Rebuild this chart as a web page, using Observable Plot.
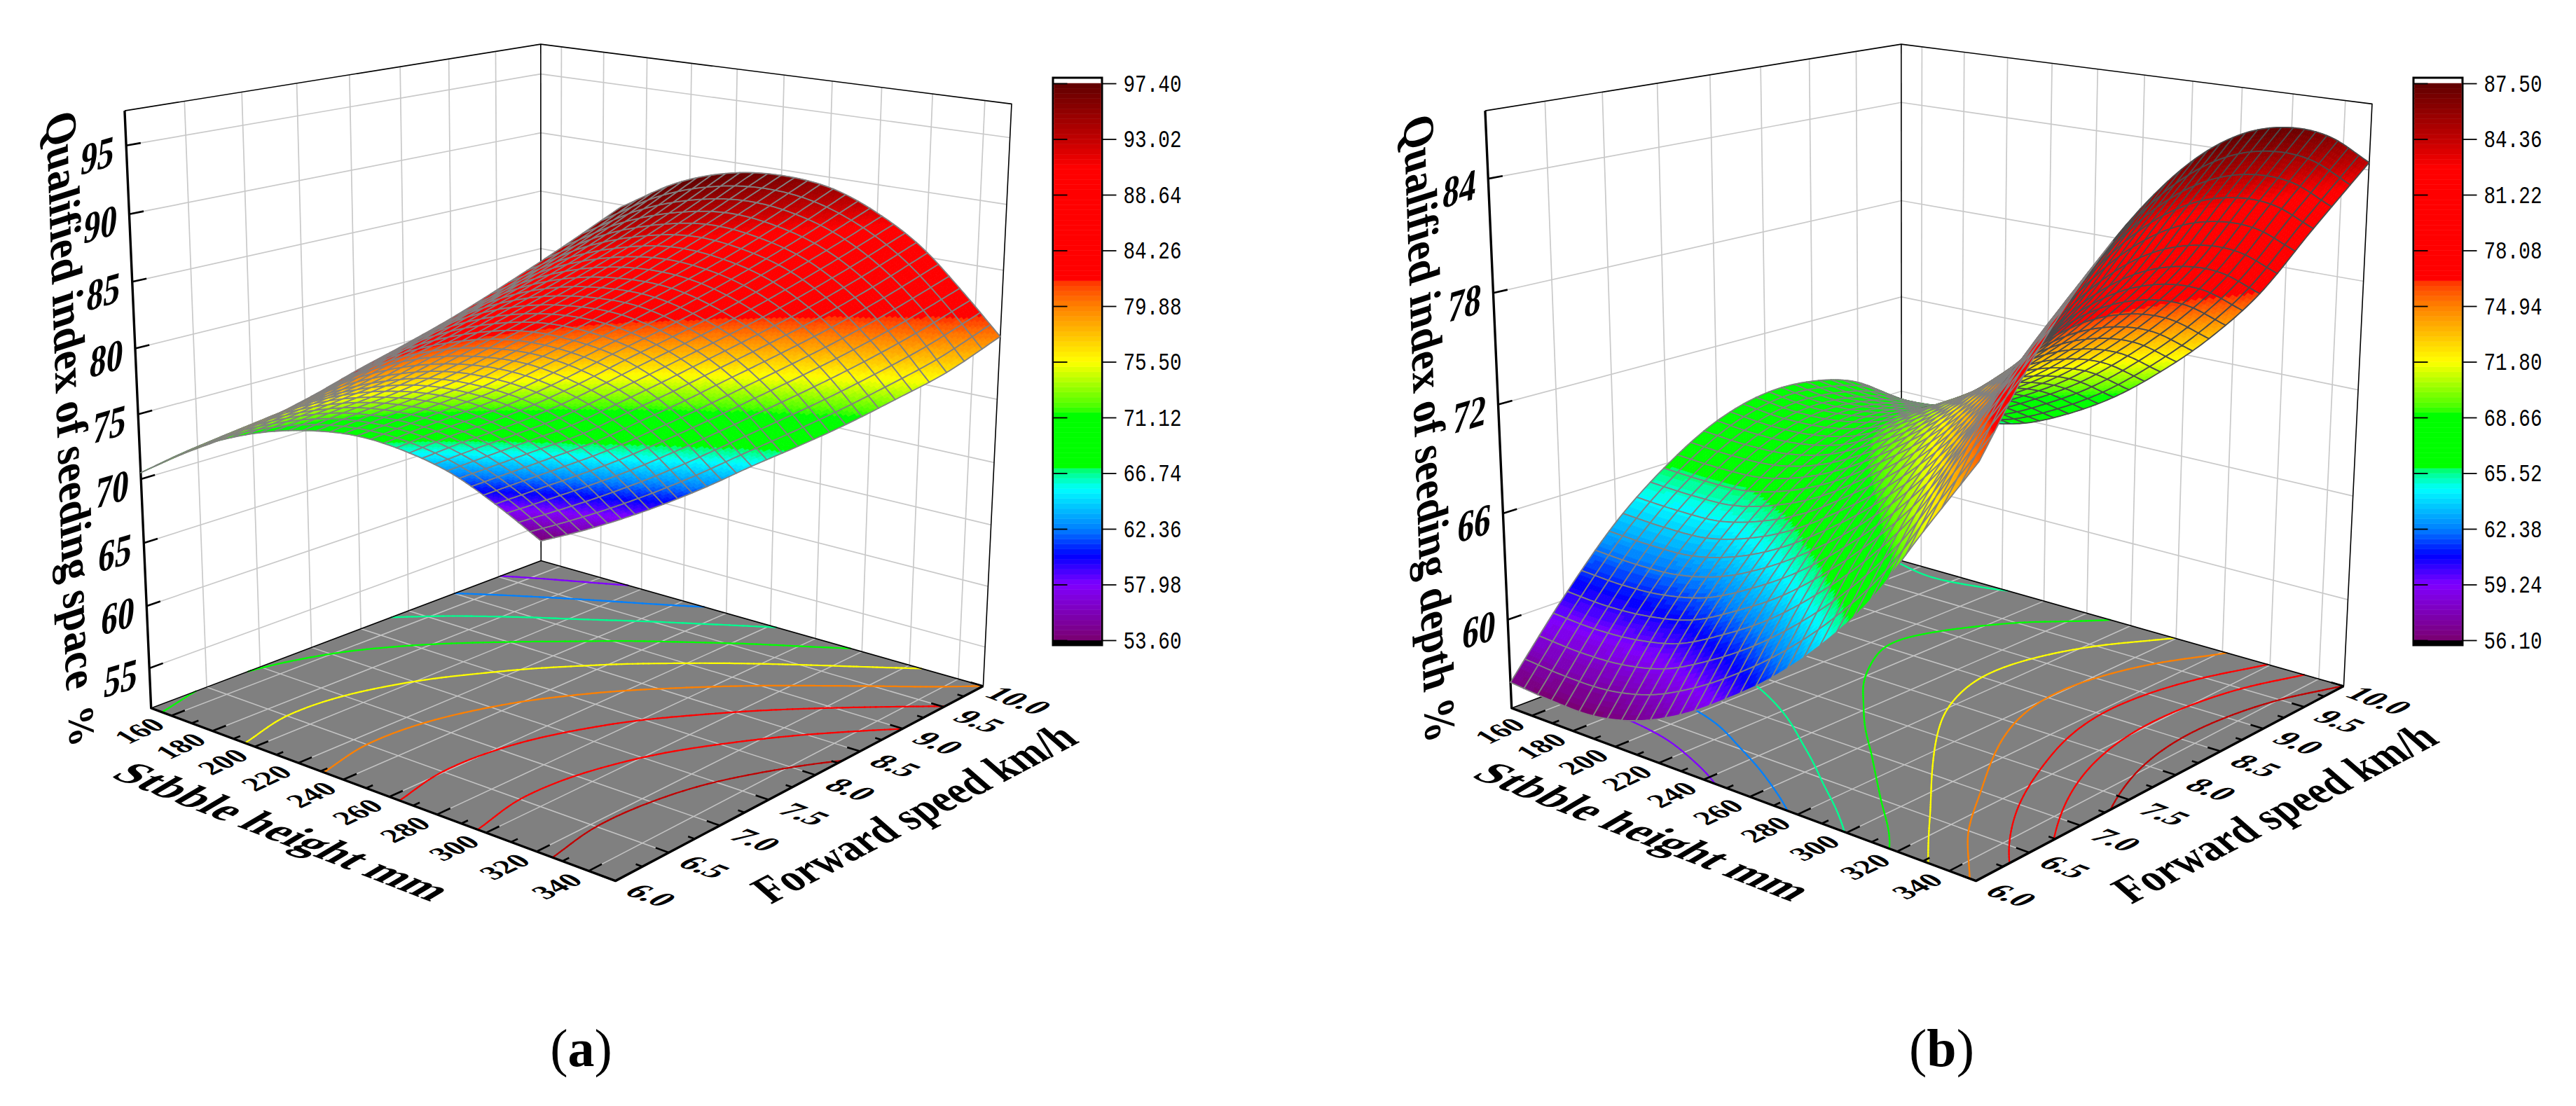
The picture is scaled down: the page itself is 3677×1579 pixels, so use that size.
<!DOCTYPE html>
<html>
<head>
<meta charset="utf-8">
<style>
html,body{margin:0;padding:0;background:#fff}
#row{display:flex;width:3677px;height:1579px;overflow:hidden}
svg{display:block;flex:none}
</style>
<script src="https://cdn.jsdelivr.net/npm/d3@7"></script>
<script src="https://cdn.jsdelivr.net/npm/@observablehq/plot@0.6"></script>
</head>
<body>
<div id="row"></div>
<script>
// ---- axis ticks
const stubbleTicks = [160,180,200,220,240,260,280,300,320,340];
const stubbleMinor = [170,190,210,230,250,270,290,310,330];
const speedTicks = [6,6.5,7,7.5,8,8.5,9,9.5,10];
const speedMinor = [6.25,6.75,7.25,7.75,8.25,8.75,9.25,9.75];
const spaceTicks = [55,60,65,70,75,80,85,90,95];
const depthTicks = [60,66,72,78,84];
const spaceBar = [97.40,93.02,88.64,84.26,79.88,75.50,71.12,66.74,62.36,57.98,53.60];
const depthBar = [87.50,84.36,81.22,78.08,74.94,71.80,68.66,65.52,62.38,59.24,56.10];

// ---- surface values: one row per stubble height, one column per speed
const surfaceStubble = [150,170,190,210,230,250,270,290,310,330,350];
const surfaceSpeed = [6,6.5,7,7.5,8,8.5,9,9.5,10];
const spaceValues = [
 [70.5,71.2,71.0,70.0,68.3,65.7,62.4,58.2,53.6],
 [72.8,73.4,73.2,72.3,70.5,68.0,64.6,60.4,55.5],
 [74.9,75.6,75.4,74.4,72.7,70.1,66.8,62.6,57.6],
 [77.2,77.8,77.6,76.7,74.9,72.4,69.0,64.9,59.9],
 [79.7,80.4,80.2,79.2,77.5,74.9,71.6,67.4,62.4],
 [82.4,83.0,82.8,81.9,80.1,77.6,74.2,70.0,65.1],
 [85.0,85.7,85.5,84.5,82.8,80.2,76.9,72.7,67.7],
 [87.7,88.4,88.2,87.2,85.5,82.9,79.6,75.4,70.4],
 [90.6,91.2,91.0,90.1,88.3,85.8,82.4,78.2,73.3],
 [93.6,94.2,94.0,93.1,91.3,88.8,85.4,81.2,76.3],
 [96.7,97.4,97.2,96.2,94.5,91.9,88.6,84.4,79.9]
];
const depthValues = [
 [56.4,60.2,63.5,65.9,67.6,68.4,68.3,67.4,65.3],
 [56.2,60.1,63.4,65.8,67.4,68.1,67.9,67.0,64.9],
 [56.2,60.3,63.5,65.9,67.5,68.2,68.0,67.1,65.2],
 [56.8,60.9,64.2,66.6,68.1,68.8,68.6,67.6,65.8],
 [58.0,62.2,65.4,67.8,69.4,70.1,69.9,68.9,67.0],
 [59.7,63.8,67.1,69.5,71.0,71.7,71.5,70.5,68.6],
 [61.7,65.9,69.1,71.5,73.1,73.8,73.6,72.6,70.7],
 [64.2,68.4,71.6,74.0,75.6,76.3,76.1,75.1,73.2],
 [67.3,71.5,74.7,77.1,78.7,79.4,79.2,78.2,76.3],
 [71.4,75.6,78.8,81.2,82.8,83.5,83.3,82.3,80.4],
 [75.4,79.6,82.8,85.2,86.8,87.5,87.3,86.3,84.4]
];

// ---- colour map of the legend (position 0..1 in the bar, colour)
const mapStops = [0,0.1,0.152,0.2,0.272,0.304,0.311,0.408,0.415,0.5,0.6,0.64,0.65,0.848,0.9,1];
const mapColors = ["#7a0070","#8000ff","#0000ff","#0080ff","#00ffff","#00ff80","#00ff00","#00ff00","#40ff00","#ffff00","#ff8000","#ff4000","#ff0000","#ff0000","#c00000","#600000"];
const bandCount = 110;

// ---- camera: box corners and wall tick positions on screen
const boxCorners = [
 [0,0,0,214.7,1010.7],[0,0,1,178,158],[1,0,0,878,1257],[1,1,0,1404,975],
 [1,1,1,1443,143],[0,1,0,771.5,799],[0,1,1,771.5,61.6],
 [0,0,0.508,196.6,591],[0,0,0.071,212.2,953.6],[0,0,0.945,180.1,207],
 [0,1,0.945,771.5,105],[0,1,0.617,771.5,357],
 [1,1,0.071,1406,926],[1,1,0.617,1427,482],[1,1,0.945,1440.4,199]
];
function solveCamera(){
  const A=[],B=[];
  for(const [X,Y,Z,px,py] of boxCorners){
    const x=px/1000,y=py/1000;
    A.push([X,Y,Z,1,0,0,0,0,-x*X,-x*Y,-x*Z]);B.push(x);
    A.push([0,0,0,0,X,Y,Z,1,-y*X,-y*Y,-y*Z]);B.push(y);
  }
  const n=11,M=d3.range(n).map(i=>d3.range(n+1).map(j=>0));
  A.forEach((r,k)=>{for(let i=0;i<n;i++){for(let j=0;j<n;j++)M[i][j]+=r[i]*r[j];M[i][n]+=r[i]*B[k];}});
  for(let c=0;c<n;c++){
    let p=c;for(let r=c+1;r<n;r++)if(Math.abs(M[r][c])>Math.abs(M[p][c]))p=r;
    [M[c],M[p]]=[M[p],M[c]];
    for(let r=0;r<n;r++){if(r===c)continue;const f=M[r][c]/M[c][c];for(let j=c;j<=n;j++)M[r][j]-=f*M[c][j];}
  }
  return M.map((r,i)=>r[n]/r[i]);
}
const P=solveCamera();
function proj(u,w,t){
  const d=P[8]*u+P[9]*w+P[10]*t+1;
  return [1000*(P[0]*u+P[1]*w+P[2]*t+P[3])/d,1000*(P[4]*u+P[5]*w+P[6]*t+P[7])/d];
}
const uOf=s=>(s-150)/200, wOf=v=>(v-6)/4;

// smooth sampling of the table between the read values
const cr=(a,b,c,d,t)=>0.5*((2*b)+(-a+c)*t+(2*a-5*b+4*c-d)*t*t+(-a+3*b-3*c+d)*t*t*t);
function pick(arr,i){const n=arr.length;if(i<0)return 2*arr[0]-arr[1];if(i>=n)return 2*arr[n-1]-arr[n-2];return arr[i];}
function sampler(table){
  const nv=table[0].length,ns=table.length;
  return (u,w)=>{
    const fs=Math.min(u*(ns-1),ns-1.000001),fv=Math.min(w*(nv-1),nv-1.000001);
    const is=Math.floor(fs),iv=Math.floor(fv),ts=fs-is,tv=fv-iv;
    const rowAt=r=>cr(pick(r,iv-1),pick(r,iv),pick(r,iv+1),pick(r,iv+2),tv);
    const v1=rowAt(table[is]),v2=rowAt(table[is+1]);
    const v0=is>0?rowAt(table[is-1]):2*v1-v2;
    const v3=is+2<ns?rowAt(table[is+2]):2*v2-v1;
    return cr(v0,v1,v2,v3,ts);
  };
}

function warpText(rows,opts){
  return Plot.text(rows,{x:"x",y:"y",text:"t",textAnchor:opts.anchor||"middle",lineAnchor:"middle",
    fontFamily:opts.family||"Liberation Serif",fontWeight:opts.weight||"bold",fontSize:opts.size,fill:"black",
    render(index,scales,values,dims,ctx,next){
      const g=next(index,scales,values,dims,ctx);
      d3.select(g).selectAll("text").each(function(i){
        const r=rows[i],b=opts.base,s=opts.up;
        this.setAttribute("transform",`matrix(${b[0]},${b[1]},${-s[0]},${-s[1]},${r.x},${r.y})`);
        if(r.len){this.setAttribute("textLength",r.len);this.setAttribute("lengthAdjust","spacingAndGlyphs");}
      });
      return g;
    }});
}
const lineMark=(rows,stroke,width)=>Plot.line(rows,{x:"x",y:"y",z:"id",stroke,strokeWidth:width,strokeLinecap:"butt"});

function panel(cfg){
  const {width,zMin,zMax,zTicks,table,bar,titleRow,percentRow,tag,backLine}=cfg;
  const barMax=bar[0],barMin=bar[bar.length-1];
  const tz=z=>(z-zMin)/(zMax-zMin);
  const scale=Plot.scale({color:{type:"linear",domain:mapStops.map(t=>barMin+t*(barMax-barMin)),range:mapColors,clamp:true}});
  const bandStep=(barMax-barMin)/bandCount;
  const bandColors=d3.range(bandCount).map(i=>scale.apply(barMin+(i+0.5)*bandStep));
  const colorOf=z=>bandColors[Math.max(0,Math.min(bandCount-1,Math.floor((z-barMin)/bandStep)))];
  const f=sampler(table);
  const mesh=30,sub=5,N=mesh*sub;
  const Z=[],S=[];
  for(let i=0;i<=N;i++){Z.push([]);S.push([]);for(let j=0;j<=N;j++){const z=f(i/N,j/N);Z[i].push(z);S[i].push(proj(i/N,j/N,tz(z)));}}
  // surface rows, painted from the far corner to the near corner
  const rows=[];let id=0;
  const push=(pts,fill,stroke,w)=>{id++;for(const p of pts)rows.push({id,x:p[0],y:p[1],fill,stroke,w});};
  for(let ci=0;ci<mesh;ci++){
    for(let cj=mesh-1;cj>=0;cj--){
      for(let a=0;a<sub;a++)for(let b=sub-1;b>=0;b--){
        const i=ci*sub+a,j=cj*sub+b;
        const c=colorOf((Z[i][j]+Z[i+1][j]+Z[i+1][j+1]+Z[i][j+1])/4);
        push([S[i][j],S[i+1][j],S[i+1][j+1],S[i][j+1],S[i][j]],c,c,0.9);
      }
      const i0=ci*sub,j0=cj*sub,i1=i0+sub,j1=j0+sub,path=[];
      for(let k=i0;k<=i1;k++)path.push(S[k][j0]);
      for(let k=j0+1;k<=j1;k++)path.push(S[i1][k]);
      for(let k=i1-1;k>=i0;k--)path.push(S[k][j1]);
      for(let k=j1-1;k>=j0;k--)path.push(S[i0][k]);
      const A=S[i0][j0],B=S[i1][j0],C=S[i0][j1];
      const cross=(B[0]-A[0])*(C[1]-A[1])-(B[1]-A[1])*(C[0]-A[0]);
      push(path,"none",cross<0?"#808080":backLine,1.8);
    }
  }
  // floor contours at the inner legend values
  const contour=[];let cid=0;
  bar.slice(1,-1).forEach(level=>{
    const col=scale.apply(level);
    const cross=(i1,j1,i2,j2)=>{const a=Z[i1][j1],b=Z[i2][j2];if((a<level)===(b<level))return null;const t=(level-a)/(b-a);return proj((i1+(i2-i1)*t)/N,(j1+(j2-j1)*t)/N,0);};
    for(let i=0;i<N;i++)for(let j=0;j<N;j++){
      const hits=[cross(i,j,i+1,j),cross(i+1,j,i+1,j+1),cross(i,j+1,i+1,j+1),cross(i,j,i,j+1)].filter(Boolean);
      for(let k=0;k+1<hits.length;k+=2){cid++;contour.push({id:cid,x:hits[k][0],y:hits[k][1],c:col},{id:cid,x:hits[k+1][0],y:hits[k+1][1],c:col});}
    }
  });
  // walls, floor and grid
  let sid=0;
  const addSeg=(arr,...pts)=>{sid++;for(const p of pts)arr.push({id:sid,x:p[0],y:p[1]});};
  const wallGrid=[],floorGrid=[],ticks=[],thin=[],thick=[];
  zTicks.forEach(z=>addSeg(wallGrid,proj(0,0,tz(z)),proj(0,1,tz(z)),proj(1,1,tz(z))));
  speedTicks.slice(1,-1).forEach(v=>addSeg(wallGrid,proj(0,wOf(v),0),proj(0,wOf(v),1)));
  stubbleTicks.forEach(s=>addSeg(wallGrid,proj(uOf(s),1,0),proj(uOf(s),1,1)));
  stubbleTicks.forEach(s=>addSeg(floorGrid,proj(uOf(s),0,0),proj(uOf(s),1,0)));
  speedTicks.slice(1,-1).forEach(v=>addSeg(floorGrid,proj(0,wOf(v),0),proj(1,wOf(v),0)));
  stubbleTicks.forEach(s=>addSeg(ticks,proj(uOf(s),0,0),proj(uOf(s),0.03,0)));
  stubbleMinor.forEach(s=>addSeg(ticks,proj(uOf(s),0,0),proj(uOf(s),0.015,0)));
  speedTicks.forEach(v=>addSeg(ticks,proj(1,wOf(v),0),proj(0.975,wOf(v),0)));
  speedMinor.forEach(v=>addSeg(ticks,proj(1,wOf(v),0),proj(0.9875,wOf(v),0)));
  zTicks.forEach(z=>addSeg(ticks,proj(0,0,tz(z)),proj(0,0.03,tz(z))));
  addSeg(thin,proj(0,0,1),proj(0,1,1),proj(1,1,1),proj(1,1,0));
  addSeg(thin,proj(0,1,0),proj(0,1,1));
  addSeg(thin,proj(0,0,0),proj(0,1,0),proj(1,1,0));
  addSeg(thick,proj(0,0,1),proj(0,0,0),proj(1,0,0),proj(1,1,0));
  const wall=[proj(0,0,0),proj(0,0,1),proj(0,1,1),proj(1,1,1),proj(1,1,0),proj(1,0,0)].map(p=>({x:p[0],y:p[1]}));
  const floor=[proj(0,0,0),proj(1,0,0),proj(1,1,0),proj(0,1,0),proj(0,0,0)].map(p=>({x:p[0],y:p[1]}));
  // colour bar
  const barX0=1503,barX1=1573,barTop=119,barBot=914;
  const barY=z=>barBot+(z-barMin)/(barMax-barMin)*(barTop-barBot);
  const bandRows=bandColors.map((c,i)=>({y1:barY(barMin+i*bandStep),y2:barY(barMin+(i+1)*bandStep),c}));
  const barTicks=[];
  bar.forEach(z=>{addSeg(barTicks,[barX0,barY(z)],[barX0+20,barY(z)]);addSeg(barTicks,[barX1,barY(z)],[barX1+20,barY(z)]);});
  // text rows
  const zRows=zTicks.map(z=>{const p=proj(0,0,tz(z));return {x:p[0]-41,y:p[1]+15,t:String(z)};});
  const sRows=stubbleTicks.map(s=>{const p=proj(uOf(s),0,0);return {x:p[0]-45,y:p[1]+22,t:String(s)};});
  const vRows=speedTicks.map(v=>{const p=proj(1,wOf(v),0);return {x:p[0]+50,y:p[1]+21,t:v.toFixed(1)};});
  const barRows=bar.map(z=>({x:1603,y:barY(z),t:z.toFixed(2),len:83}));
  const marks=[
    Plot.line(wall,{x:"x",y:"y",fill:"white",stroke:"none"}),
    lineMark(wallGrid,"#c9c9c9",1.7),
    Plot.line(floor,{x:"x",y:"y",fill:"#808080",stroke:"none"}),
    lineMark(floorGrid,"#c4c4c4",1.5),
    Plot.line(contour,{x:"x",y:"y",z:"id",stroke:"c",strokeWidth:2.2,strokeLinecap:"round"}),
    lineMark(thin,"black",1.6),
    lineMark(thick,"black",3.4),
    lineMark(ticks,"black",2.6),
    Plot.line(rows,{x:"x",y:"y",z:"id",fill:"fill",stroke:"stroke",strokeWidth:"w",strokeLinejoin:"round"}),
    // colour bar
    Plot.rect([{}],{x1:()=>barX0,x2:()=>barX1,y1:()=>111,y2:()=>921,fill:"white",stroke:"black",strokeWidth:3}),
    Plot.rect([{}],{x1:()=>barX0,x2:()=>barX1,y1:()=>barBot,y2:()=>921,fill:"black"}),
    Plot.rect(bandRows,{x1:()=>barX0+1.5,x2:()=>barX1-1.5,y1:"y1",y2:"y2",fill:"c",stroke:"c",strokeWidth:0.5}),
    lineMark(barTicks,"black",1.8),
    warpText(barRows,{family:"Liberation Mono",weight:"normal",size:35,anchor:"start",base:[1,0],up:[0,-1]}),
    // axis text
    warpText(zRows,{size:64,base:[0.74,-0.22],up:[0.1,-1]}),
    warpText(sRows,{size:41,base:[0.9,-0.42],up:[-0.85,-0.5]}),
    warpText(vRows,{size:46,base:[0.94,0.35],up:[0.88,-0.47]}),
    warpText([titleRow],{size:66,base:[0.035,0.999],up:[0.95,-0.3]}),
    warpText([{x:403,y:1187,t:"Stbble height mm",len:492}],{size:66,base:[0.932,0.363],up:[0.85,-0.5]}),
    warpText([{x:1305,y:1161,t:"Forward speed km/h",len:499}],{size:66,base:[0.885,-0.465],up:[-0.75,-0.65]})
  ];
  if(percentRow)marks.push(warpText([percentRow],{size:55,base:[0.035,0.999],up:[0.95,-0.3]}));
  marks.push(Plot.text([tag],{x:()=>829,y:()=>1497,text:d=>`(${d})`,fontFamily:"Liberation Serif",fontSize:76,textAnchor:"middle",lineAnchor:"middle",fill:"black",
    render(index,scales,values,dims,ctx,next){
      const g=next(index,scales,values,dims,ctx);
      d3.select(g).selectAll("text").each(function(){this.innerHTML=`(<tspan font-weight="bold">${tag}</tspan>)`;});
      return g;
    }}));
  return Plot.plot({width,height:1579,margin:0,
    x:{domain:[0,width],range:[0,width],axis:null},
    y:{domain:[0,1579],range:[0,1579],axis:null},
    color:{type:"identity"},
    marks});
}
const row=document.getElementById("row");
row.append(panel({width:1942,zMin:51.75,zMax:97.5,zTicks:spaceTicks,table:spaceValues,bar:spaceBar,backLine:"#808080",
  titleRow:{x:100,y:571,t:"Qualified index of seeding space",len:823},
  percentRow:{x:115,y:1036,t:"%"},tag:"a"}));
row.append(panel({width:1735,zMin:54.9,zMax:87.5,zTicks:depthTicks,table:depthValues,bar:depthBar,backLine:"#4a4a4a",
  titleRow:{x:97,y:611,t:"Qualified index of seeding depth %",len:893},
  percentRow:null,tag:"b"}));
</script>
</body>
</html>
